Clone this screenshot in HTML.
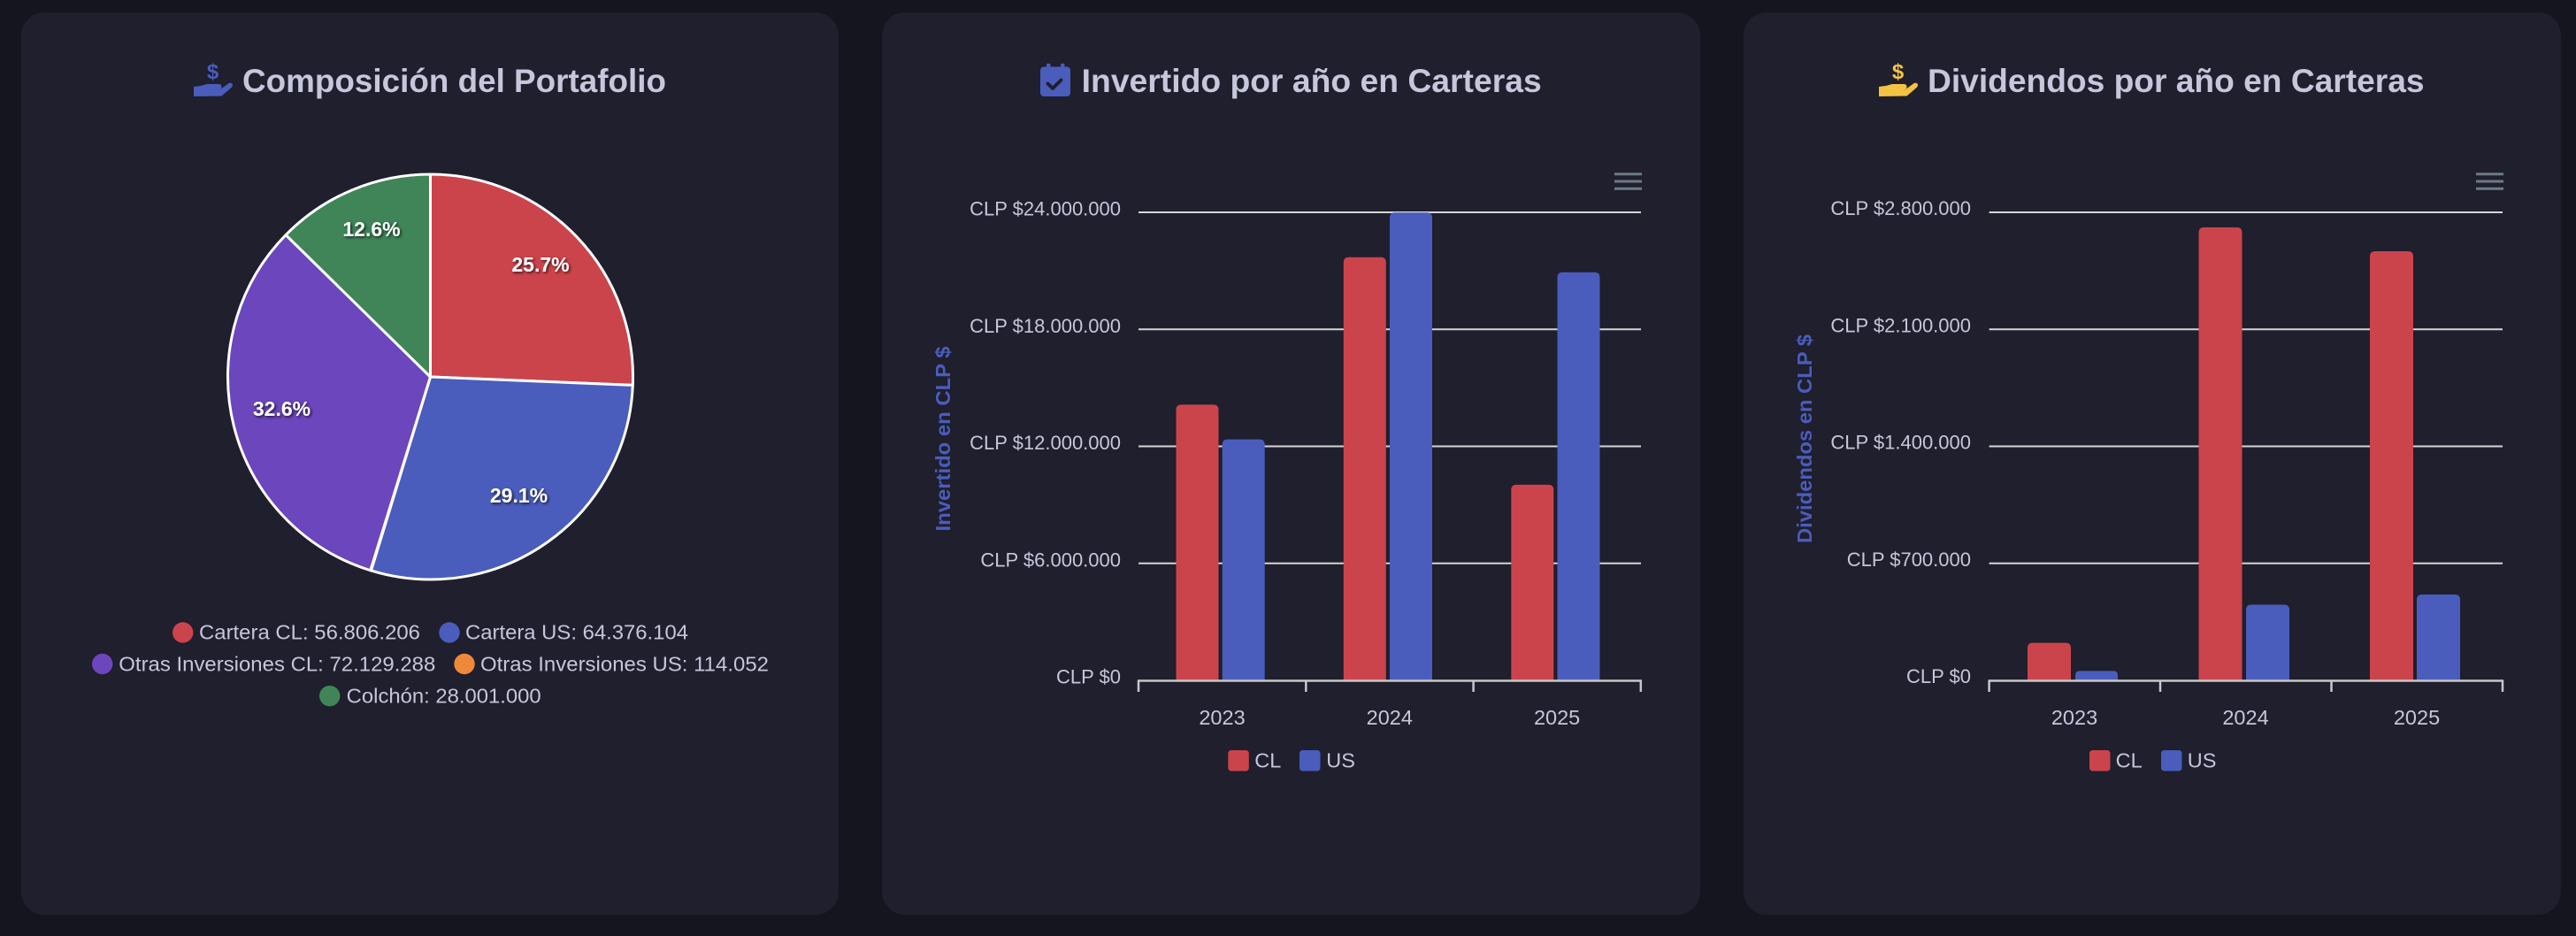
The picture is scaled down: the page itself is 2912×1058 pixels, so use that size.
<!DOCTYPE html>
<html>
<head>
<meta charset="utf-8">
<style>
html,body{margin:0;padding:0;background:#15151f;}
svg{display:block;}
text{font-family:"Liberation Sans",Arial,sans-serif;}
</style>
</head>
<body>
<svg width="2912" height="1058" viewBox="0 0 2912 1058" xmlns="http://www.w3.org/2000/svg">
<defs>
<filter id="ts" x="-20%" y="-40%" width="140%" height="180%">
<feDropShadow dx="1.5" dy="1.5" stdDeviation="1.5" flood-color="#000" flood-opacity="0.75"/>
</filter>
</defs>
<rect x="0" y="0" width="2912" height="1058" fill="#15151f"/>

<!-- Cards -->
<rect x="24" y="14" width="924" height="1020" rx="26" fill="#1f1f2d"/>
<rect x="997" y="14" width="925" height="1020" rx="26" fill="#1f1f2d"/>
<rect x="1971" y="14" width="924" height="1020" rx="26" fill="#1f1f2d"/>

<!-- ===== Card 1: Pie ===== -->
<g fill="#4a5dbc">
<text x="240.5" y="89" font-size="24" font-weight="bold" text-anchor="middle" fill="#4a5dbc">$</text>
<path d="M219,98 L227,97 L234,95 L247,95 Q250.5,95 250.5,98 Q250.5,101.5 247,101.5 L239,101.5 L248.5,101.5 L258,94.5 Q261,92.5 262.8,95 Q263.5,97.5 261,99.5 L250.5,108.5 L219,109 Z"/>
</g>
<text x="274" y="104" font-size="37" font-weight="bold" fill="#c6c6dc" textLength="479" lengthAdjust="spacingAndGlyphs">Composición del Portafolio</text>

<g stroke="#ffffff" stroke-width="3" stroke-linejoin="round">
<path d="M486.5,426 L486.5,197 A229,229 0 0 1 715.31,435.42 Z" fill="#cc444b"/>
<path d="M486.5,426 L715.31,435.42 A229,229 0 0 1 419.47,644.97 Z" fill="#4a5dbc"/>
<path d="M486.5,426 L419.47,644.97 A229,229 0 0 1 418.76,644.75 Z" fill="#f0883a"/>
<path d="M486.5,426 L418.76,644.75 A229,229 0 0 1 323.09,265.57 Z" fill="#6b46bc"/>
<path d="M486.5,426 L323.09,265.57 A229,229 0 0 1 486.5,197 Z" fill="#3f8558"/>
</g>
<g font-size="23" font-weight="bold" fill="#ffffff" text-anchor="middle" filter="url(#ts)">
<text x="611" y="307">25.7%</text>
<text x="586.5" y="568">29.1%</text>
<text x="318.5" y="470">32.6%</text>
<text x="420" y="267">12.6%</text>
</g>

<g font-size="22.7" fill="#c6c6dc">
<circle cx="206.7" cy="715" r="11.7" fill="#cc444b"/>
<text x="225" y="722.7" textLength="250" lengthAdjust="spacingAndGlyphs">Cartera CL: 56.806.206</text>
<circle cx="508" cy="715" r="11.7" fill="#4a5dbc"/>
<text x="526" y="722.7" textLength="252" lengthAdjust="spacingAndGlyphs">Cartera US: 64.376.104</text>
<circle cx="115.7" cy="750.5" r="11.7" fill="#6b46bc"/>
<text x="134.3" y="758.3" textLength="358" lengthAdjust="spacingAndGlyphs">Otras Inversiones CL: 72.129.288</text>
<circle cx="525" cy="750.5" r="11.7" fill="#f0883a"/>
<text x="543" y="758.3" textLength="326" lengthAdjust="spacingAndGlyphs">Otras Inversiones US: 114.052</text>
<circle cx="372.7" cy="786.7" r="11.7" fill="#3f8558"/>
<text x="391.7" y="794.3" textLength="220" lengthAdjust="spacingAndGlyphs">Colchón: 28.001.000</text>
</g>

<!-- ===== Card 2: Invertido ===== -->
<g fill="#4a5dbc">
<rect x="1183" y="71.7" width="4.5" height="8" rx="1.5"/>
<rect x="1199" y="71.7" width="4.5" height="8" rx="1.5"/>
<rect x="1176" y="75.5" width="34" height="33.5" rx="4"/>
</g>
<path d="M1184.5,94.5 L1190,100 L1199.5,90.5" fill="none" stroke="#1f1f2d" stroke-width="3.8" stroke-linecap="round" stroke-linejoin="round"/>
<text x="1222.7" y="104" font-size="37" font-weight="bold" fill="#c6c6dc" textLength="520" lengthAdjust="spacingAndGlyphs">Invertido por año en Carteras</text>

<g stroke="#6e7a88" stroke-width="3">
<line x1="1825" y1="196.7" x2="1856" y2="196.7"/>
<line x1="1825" y1="205" x2="1856" y2="205"/>
<line x1="1825" y1="213.3" x2="1856" y2="213.3"/>
</g>

<g stroke="#d6d6d6" stroke-width="2">
<line x1="1287" y1="240" x2="1855" y2="240"/>
<line x1="1287" y1="372.25" x2="1855" y2="372.25"/>
<line x1="1287" y1="504.5" x2="1855" y2="504.5"/>
<line x1="1287" y1="636.75" x2="1855" y2="636.75"/>
</g>
<g font-size="22" fill="#c6c6dc" text-anchor="end">
<text x="1267" y="243.5">CLP $24.000.000</text>
<text x="1267" y="375.75">CLP $18.000.000</text>
<text x="1267" y="508">CLP $12.000.000</text>
<text x="1267" y="640.25">CLP $6.000.000</text>
<text x="1267" y="772.5">CLP $0</text>
</g>

<g>
<path d="M1329.5,769 V463.4 Q1329.5,457.4 1335.5,457.4 H1371.5 Q1377.5,457.4 1377.5,463.4 V769 Z" fill="#cc444b"/>
<path d="M1381.7,769 V502.6 Q1381.7,496.6 1387.7,496.6 H1423.7 Q1429.7,496.6 1429.7,502.6 V769 Z" fill="#4a5dbc"/>
<path d="M1518.8,769 V296.8 Q1518.8,290.8 1524.8,290.8 H1560.8 Q1566.8,290.8 1566.8,296.8 V769 Z" fill="#cc444b"/>
<path d="M1571,769 V246.2 Q1571,240.2 1577,240.2 H1613 Q1619,240.2 1619,246.2 V769 Z" fill="#4a5dbc"/>
<path d="M1708.3,769 V553.9 Q1708.3,547.9 1714.3,547.9 H1750.3 Q1756.3,547.9 1756.3,553.9 V769 Z" fill="#cc444b"/>
<path d="M1760.5,769 V313.7 Q1760.5,307.7 1766.5,307.7 H1802.5 Q1808.5,307.7 1808.5,313.7 V769 Z" fill="#4a5dbc"/>
</g>

<g stroke="#c8c8c8" stroke-width="2.5">
<line x1="1286" y1="769.5" x2="1856" y2="769.5"/>
<line x1="1287" y1="769" x2="1287" y2="782"/>
<line x1="1476.3" y1="769" x2="1476.3" y2="782"/>
<line x1="1665.6" y1="769" x2="1665.6" y2="782"/>
<line x1="1854.8" y1="769" x2="1854.8" y2="782"/>
</g>
<g font-size="23.5" fill="#c6c6dc" text-anchor="middle">
<text x="1381.5" y="819">2023</text>
<text x="1570.8" y="819">2024</text>
<text x="1760.1" y="819">2025</text>
</g>
<rect x="1388.3" y="848" width="23.5" height="23.5" rx="3.5" fill="#cc444b"/>
<text x="1418.3" y="867.7" font-size="23.5" fill="#c6c6dc">CL</text>
<rect x="1469" y="848" width="23.5" height="23.5" rx="3.5" fill="#4a5dbc"/>
<text x="1499.3" y="867.7" font-size="23.5" fill="#c6c6dc">US</text>

<text transform="translate(1074,496) rotate(-90)" font-size="23.5" font-weight="bold" fill="#4a5dbc" text-anchor="middle" textLength="209" lengthAdjust="spacingAndGlyphs">Invertido en CLP $</text>

<!-- ===== Card 3: Dividendos ===== -->
<g fill="#f5c342">
<text x="2145.5" y="89" font-size="24" font-weight="bold" text-anchor="middle" fill="#f5c342">$</text>
<path d="M2124,98 L2132,97 L2139,95 L2152,95 Q2155.5,95 2155.5,98 Q2155.5,101.5 2152,101.5 L2144,101.5 L2153.5,101.5 L2163,94.5 Q2166,92.5 2167.8,95 Q2168.5,97.5 2166,99.5 L2155.5,108.5 L2124,109 Z"/>
</g>
<text x="2179" y="104" font-size="37" font-weight="bold" fill="#c6c6dc" textLength="561.6" lengthAdjust="spacingAndGlyphs">Dividendos por año en Carteras</text>

<g stroke="#6e7a88" stroke-width="3">
<line x1="2799" y1="196.7" x2="2830" y2="196.7"/>
<line x1="2799" y1="205" x2="2830" y2="205"/>
<line x1="2799" y1="213.3" x2="2830" y2="213.3"/>
</g>

<g stroke="#d6d6d6" stroke-width="2">
<line x1="2248.6" y1="240" x2="2829" y2="240"/>
<line x1="2248.6" y1="372.25" x2="2829" y2="372.25"/>
<line x1="2248.6" y1="504.5" x2="2829" y2="504.5"/>
<line x1="2248.6" y1="636.75" x2="2829" y2="636.75"/>
</g>
<g font-size="22" fill="#c6c6dc" text-anchor="end">
<text x="2228" y="243">CLP $2.800.000</text>
<text x="2228" y="375.25">CLP $2.100.000</text>
<text x="2228" y="507.5">CLP $1.400.000</text>
<text x="2228" y="639.75">CLP $700.000</text>
<text x="2228" y="772">CLP $0</text>
</g>

<g>
<path d="M2292,769 V732.6 Q2292,726.6 2298,726.6 H2335 Q2341,726.6 2341,732.6 V769 Z" fill="#cc444b"/>
<path d="M2346,769 V763.4 Q2346,758.4 2351,758.4 H2389 Q2394,758.4 2394,763.4 V769 Z" fill="#4a5dbc"/>
<path d="M2485.5,769 V263 Q2485.5,257 2491.5,257 H2528.5 Q2534.5,257 2534.5,263 V769 Z" fill="#cc444b"/>
<path d="M2539,769 V689.5 Q2539,683.5 2545,683.5 H2582 Q2588,683.5 2588,689.5 V769 Z" fill="#4a5dbc"/>
<path d="M2679,769 V290 Q2679,284 2685,284 H2722 Q2728,284 2728,290 V769 Z" fill="#cc444b"/>
<path d="M2732,769 V678 Q2732,672 2738,672 H2775 Q2781,672 2781,678 V769 Z" fill="#4a5dbc"/>
</g>

<g stroke="#c8c8c8" stroke-width="2.5">
<line x1="2247.6" y1="769.5" x2="2830" y2="769.5"/>
<line x1="2248.6" y1="769" x2="2248.6" y2="782"/>
<line x1="2442" y1="769" x2="2442" y2="782"/>
<line x1="2635.5" y1="769" x2="2635.5" y2="782"/>
<line x1="2829" y1="769" x2="2829" y2="782"/>
</g>
<g font-size="23.5" fill="#c6c6dc" text-anchor="middle">
<text x="2345" y="819">2023</text>
<text x="2538.5" y="819">2024</text>
<text x="2732" y="819">2025</text>
</g>
<rect x="2362" y="848" width="23.5" height="23.5" rx="3.5" fill="#cc444b"/>
<text x="2391.6" y="867.7" font-size="23.5" fill="#c6c6dc">CL</text>
<rect x="2443" y="848" width="23.5" height="23.5" rx="3.5" fill="#4a5dbc"/>
<text x="2472.8" y="867.7" font-size="23.5" fill="#c6c6dc">US</text>

<text transform="translate(2048,496) rotate(-90)" font-size="23.5" font-weight="bold" fill="#4a5dbc" text-anchor="middle" textLength="236" lengthAdjust="spacingAndGlyphs">Dividendos en CLP $</text>
</svg>
</body>
</html>
